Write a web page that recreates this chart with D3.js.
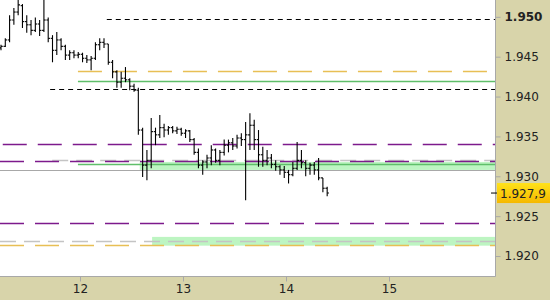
<!DOCTYPE html>
<html>
<head>
<meta charset="utf-8">
<script src="https://cdn.jsdelivr.net/npm/d3@7"></script>
<style>
  body { margin: 0; background: #d8d4aa; }
  svg { display: block; font-family: "DejaVu Sans", Verdana, sans-serif; }
</style>
</head>
<body>
<svg id="chart"></svg>
<script>
// hourly bars, first one on day 11.233
const barStart = 11.233
const barStep = 1 / 24
const opens  = [1.9461,1.9463,1.9471,1.9496,1.9506,1.9514,1.9494,1.9490,1.9483,1.9491,1.9483,1.9496,1.9473,1.9458,1.9471,1.9463,1.9452,1.9455,1.9452,1.9453,1.9448,1.9446,1.9448,1.9465,1.9468,1.9466,1.9443,1.9431,1.9418,1.9423,1.9421,1.9413,1.9408,1.9358,1.9314,1.9320,1.9356,1.9352,1.9361,1.9358,1.9361,1.9357,1.9359,1.9354,1.9357,1.9346,1.9330,1.9314,1.9318,1.9323,1.9333,1.9320,1.9330,1.9339,1.9342,1.9338,1.9348,1.9346,1.9352,1.9364,1.9346,1.9327,1.9320,1.9323,1.9315,1.9312,1.9308,1.9305,1.9302,1.9310,1.9320,1.9317,1.9310,1.9314,1.9308,1.9298,1.9285]
const highs  = [1.9465,1.9473,1.9502,1.9511,1.9525,1.9516,1.9502,1.9496,1.9499,1.9496,1.9527,1.9499,1.9477,1.9481,1.9473,1.9465,1.9458,1.9458,1.9456,1.9455,1.9452,1.9451,1.9468,1.9473,1.9473,1.9466,1.9446,1.9433,1.9431,1.9437,1.9423,1.9416,1.9411,1.9361,1.9333,1.9373,1.9361,1.9377,1.9366,1.9363,1.9363,1.9362,1.9361,1.9359,1.9358,1.9348,1.9335,1.9320,1.9327,1.9339,1.9335,1.9333,1.9346,1.9346,1.9348,1.9352,1.9354,1.9368,1.9379,1.9371,1.9358,1.9337,1.9333,1.9328,1.9320,1.9314,1.9313,1.9308,1.9318,1.9343,1.9333,1.9320,1.9317,1.9318,1.9323,1.9298,1.9287]
const lows   = [1.9458,1.9462,1.9468,1.9490,1.9502,1.9486,1.9480,1.9477,1.9481,1.9476,1.9481,1.9468,1.9443,1.9452,1.9458,1.9446,1.9446,1.9448,1.9448,1.9443,1.9442,1.9433,1.9446,1.9458,1.9461,1.9440,1.9423,1.9411,1.9411,1.9418,1.9408,1.9406,1.9352,1.9299,1.9295,1.9310,1.9339,1.9348,1.9349,1.9352,1.9354,1.9353,1.9351,1.9348,1.9343,1.9327,1.9310,1.9302,1.9310,1.9314,1.9317,1.9314,1.9326,1.9330,1.9333,1.9335,1.9338,1.9270,1.9333,1.9333,1.9312,1.9312,1.9314,1.9310,1.9307,1.9302,1.9298,1.9291,1.9300,1.9308,1.9310,1.9300,1.9302,1.9302,1.9295,1.9280,1.9275]
const closes = [1.9463,1.9471,1.9496,1.9506,1.9515,1.9494,1.9490,1.9483,1.9491,1.9483,1.9496,1.9473,1.9458,1.9471,1.9463,1.9452,1.9455,1.9452,1.9453,1.9448,1.9446,1.9448,1.9465,1.9468,1.9466,1.9443,1.9431,1.9418,1.9423,1.9421,1.9413,1.9408,1.9358,1.9314,1.9320,1.9356,1.9352,1.9361,1.9358,1.9361,1.9357,1.9359,1.9354,1.9357,1.9346,1.9330,1.9314,1.9318,1.9323,1.9333,1.9320,1.9330,1.9339,1.9342,1.9338,1.9348,1.9346,1.9352,1.9364,1.9346,1.9327,1.9320,1.9323,1.9315,1.9312,1.9308,1.9305,1.9302,1.9310,1.9320,1.9317,1.9310,1.9314,1.9308,1.9298,1.9285,1.9279]

// horizontal levels: value, first day, kind
const levelValue = [1.9497, 1.9432, 1.9420, 1.9410, 1.9340, 1.9321, 1.9319, 1.9315, 1.9308, 1.9241, 1.9219, 1.9214]
const levelFrom  = [12.26, 11.98, 11.98, 11.71, 11.25, 11.73, 11.22, 11.98, 11.22, 11.22, 11.22, 11.22]
const levelKind  = ['black', 'gold', 'green', 'black', 'purple', 'grey', 'purple', 'green', 'solidgrey', 'purple', 'grey', 'gold']

// zones
const zoneLow  = [1.9308, 1.9213]
const zoneHigh = [1.9318, 1.9224]
const zoneFrom = [12.58, 12.70]

const priceTicks = [1.920, 1.925, 1.930, 1.935, 1.940, 1.945, 1.950]
const dayTicks = [12, 13, 14, 15]
const lastPrice = 1.9279

const styles = {
  black:     {stroke: '#000', dash: '5,4', width: 1},
  gold:      {stroke: '#e8bf55', dash: '24,11', width: 1.3},
  green:     {stroke: '#5fbf6a', dash: null, width: 1.3},
  purple:    {stroke: '#7d1a8c', dash: '24,11', width: 1.3},
  grey:      {stroke: '#c4c4c4', dash: '16,8', width: 1.3},
  solidgrey: {stroke: '#a8a8a8', dash: null, width: 1}
}

const W = 550, H = 300
const plotW = 495, plotH = 276

const svg = d3.select('#chart').attr('width', W).attr('height', H)

const x = d3.scaleLinear().domain([11.2233, 16.029]).range([0, plotW])
const y = d3.scaleLinear().domain([1.91762, 1.95211]).range([275, 0])

svg.append('rect').attr('width', W).attr('height', H).attr('fill', '#d8d4aa')
svg.append('rect').attr('width', plotW).attr('height', plotH).attr('fill', '#fff')

svg.append('clipPath').attr('id', 'clip')
  .append('rect').attr('width', plotW).attr('height', plotH)

const plot = svg.append('g').attr('clip-path', 'url(#clip)')

// zones
plot.selectAll('rect.zone')
  .data(zoneLow.map((d, i) => ({lo: d, hi: zoneHigh[i], from: zoneFrom[i]})))
  .enter().append('rect')
  .attr('class', 'zone')
  .attr('x', d => x(d.from))
  .attr('y', d => y(d.hi))
  .attr('width', d => plotW - x(d.from))
  .attr('height', d => y(d.lo) - y(d.hi))
  .attr('fill', '#bdf5c2')

// levels
plot.selectAll('line.level')
  .data(levelValue.map((v, i) => ({v: v, from: levelFrom[i], kind: levelKind[i]})))
  .enter().append('line')
  .attr('class', 'level')
  .attr('x1', d => Math.max(0, x(d.from)))
  .attr('x2', plotW)
  .attr('y1', d => Math.round(y(d.v)) + 0.5)
  .attr('y2', d => Math.round(y(d.v)) + 0.5)
  .attr('stroke', d => styles[d.kind].stroke)
  .attr('stroke-width', d => styles[d.kind].width)
  .attr('stroke-dasharray', d => styles[d.kind].dash)

// bars
const bars = opens.map((o, i) => ({t: barStart + i * barStep, o: o, h: highs[i], l: lows[i], c: closes[i]}))
const bar = plot.selectAll('g.bar').data(bars).enter().append('g').attr('class', 'bar')
  .attr('stroke', '#000').attr('stroke-width', 1.1)
bar.append('line')
  .attr('x1', d => x(d.t)).attr('x2', d => x(d.t))
  .attr('y1', d => y(d.h)).attr('y2', d => y(d.l))
bar.append('line')
  .attr('x1', d => x(d.t) - 1.8).attr('x2', d => x(d.t))
  .attr('y1', d => y(d.o)).attr('y2', d => y(d.o))
bar.append('line')
  .attr('x1', d => x(d.t)).attr('x2', d => x(d.t) + 1.8)
  .attr('y1', d => y(d.c)).attr('y2', d => y(d.c))

// borders
svg.append('line').attr('x1', plotW + 0.5).attr('x2', plotW + 0.5).attr('y1', 0).attr('y2', plotH + 0.5)
  .attr('stroke', '#a8a8a8')
svg.append('line').attr('x1', 0).attr('x2', plotW + 0.5).attr('y1', plotH + 0.5).attr('y2', plotH + 0.5)
  .attr('stroke', '#a8a8a8')

// axes
const yAxis = svg.append('g')
  .attr('transform', `translate(${plotW + 0.5},0)`)
  .call(d3.axisRight(y).tickValues(priceTicks).tickFormat(d3.format('.3f')).tickSize(5).tickPadding(4))
const xAxis = svg.append('g')
  .attr('transform', `translate(0,${plotH + 0.5})`)
  .call(d3.axisBottom(x).tickValues(dayTicks).tickFormat(d3.format('d')).tickSize(5).tickPadding(3))

for (const ax of [yAxis, xAxis]) {
  ax.select('.domain').remove()
  ax.selectAll('.tick line').attr('stroke', '#a8a8a8')
  ax.selectAll('.tick text').attr('fill', '#222').style('font-size', '12px')
    .style('font-family', '"DejaVu Sans", Verdana, sans-serif')
}
yAxis.selectAll('.tick text').style('font-weight', d => d === 1.95 ? 'bold' : 'normal')

// last price tag
const grad = svg.append('defs').append('linearGradient').attr('id', 'tag')
  .attr('x1', 0).attr('x2', 0).attr('y1', 0).attr('y2', 1)
grad.append('stop').attr('offset', '0%').attr('stop-color', '#ffe21a')
grad.append('stop').attr('offset', '100%').attr('stop-color', '#f5b800')

const ly = y(lastPrice)
svg.append('rect').attr('x', plotW + 2).attr('y', ly - 10).attr('width', W - plotW - 2).attr('height', 20)
  .attr('fill', 'url(#tag)')
svg.append('line').attr('x1', plotW - 4).attr('x2', plotW + 2).attr('y1', ly).attr('y2', ly)
  .attr('stroke', '#000')
svg.append('text').attr('x', plotW + 5).attr('y', ly + 4.5)
  .attr('fill', '#222').style('font-size', '12px')
  .text(d3.format('.4f')(lastPrice).replace(/(\d)(\d)$/, '$1,$2'))
</script>
</body>
</html>
